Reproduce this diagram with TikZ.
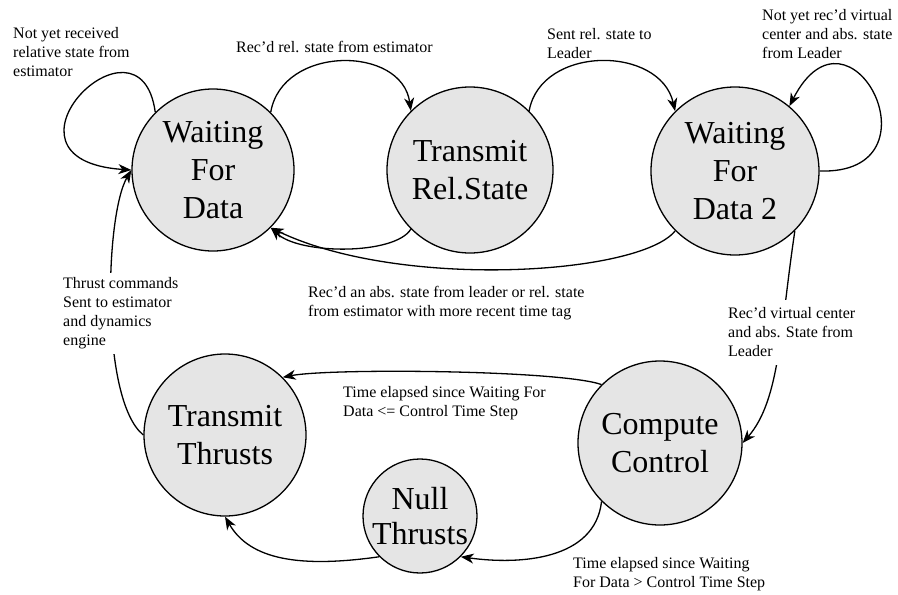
\documentclass[tikz,border=0pt]{standalone}
\usepackage{fontspec}
\setmainfont{Liberation Serif}
\usetikzlibrary{arrows.meta}
\begin{document}
\begin{tikzpicture}[x=1pt,y=-1pt,
  statec/.style={circle, draw=black, line width=1.3pt, fill=black!10, inner sep=0pt},
  statet/.style={align=center, inner sep=0pt, font=\fontsize{32}{38}\selectfont},
  lbl/.style={align=left, inner sep=0pt, anchor=north west, font=\fontsize{16}{19}\selectfont},
  lblw/.style={lbl, fill=white, inner xsep=3pt},
  edge/.style={line width=1.3pt, -{Stealth[length=13pt,width=10pt,inset=4pt]}},
]
\useasboundingbox (0,0) rectangle (898,595);
% states
\node[statec, minimum size=162pt] (wfd) at (213,170) {};
\node[statec, minimum size=166pt] (trs) at (470,170) {};
\node[statec, minimum size=168pt] (wfd2) at (735,171) {};
\node[statec, minimum size=162pt] (tt) at (225,435) {};
\node[statec, minimum size=114pt] (nt) at (420,516) {};
\node[statec, minimum size=164pt] (cc) at (660,443) {};
\node[statet] (wfdt) at (wfd) {Waiting\\For\\Data};
\node[statet] (trst) at (trs) {Transmit\\Rel.State};
\node[statet] (wfd2t) at (wfd2) {Waiting\\For\\Data 2};
\node[statet] (ttt) at (tt) {Transmit\\Thrusts};
\node[statet, font=\fontsize{32}{35}\selectfont] (ntt) at (nt) {Null\\Thrusts};
\node[statet] (cct) at (cc) {Compute\\Control};
% edges
\draw[edge] (wfd.135) .. controls (140,0) and (-20,160) .. (wfd.180);
\draw[edge] (wfd.45) .. controls (282,45) and (402,45) .. (trs.135);
\draw[edge] (trs.45) .. controls (541,45) and (660,45) .. (wfd2.135);
\draw[edge] (wfd2.0) .. controls (945,175) and (850,-12) .. (wfd2.50);
\draw[edge] (trs.225) .. controls (395,255) and (300,255) .. (wfd.-45);
\draw[edge] (wfd2.-135) .. controls (640,275) and (400,290) .. (wfd.-45);
\draw[edge] (wfd2.-45) .. controls (780,330) and (780,400) .. (cc.0);
\draw[edge] (cc.135) .. controls (560,370) and (330,368) .. (tt.45);
\draw[edge] (cc.-135) .. controls (595,560) and (520,565) .. (nt.-45);
\draw[edge] (nt.225) .. controls (300,568) and (250,560) .. (tt.-90);
\draw[edge] (tt.180) .. controls (100,400) and (105,215) .. (wfd.180);
% labels
\node[lbl] (la) at (13,27) {Not yet received\\relative state from\\estimator};
\node[lbl] (lb) at (236,41.5) {Rec’d rel. state from estimator};
\node[lbl] (lc) at (547,28.5) {Sent rel. state to\\Leader};
\node[lbl] (ld) at (762,9.5) {Not yet rec’d virtual\\center and abs. state\\from Leader};
\node[lbl] (le) at (308,286.5) {Rec’d an abs. state from leader or rel. state\\from estimator with more recent time tag};
\node[lblw, inner ysep=5pt] (lf) at (60,272.5) {Thrust commands\\Sent to estimator\\and dynamics\\engine};
\node[lblw, inner ysep=8pt] (lg) at (725,299.5) {Rec’d virtual center\\and abs. State from\\Leader};
\node[lbl] (lh) at (343,386.5) {Time elapsed since Waiting For\\Data <= Control Time Step};
\node[lbl] (li) at (573,557.5) {Time elapsed since Waiting\\For Data > Control Time Step};
\end{tikzpicture}
\end{document}
